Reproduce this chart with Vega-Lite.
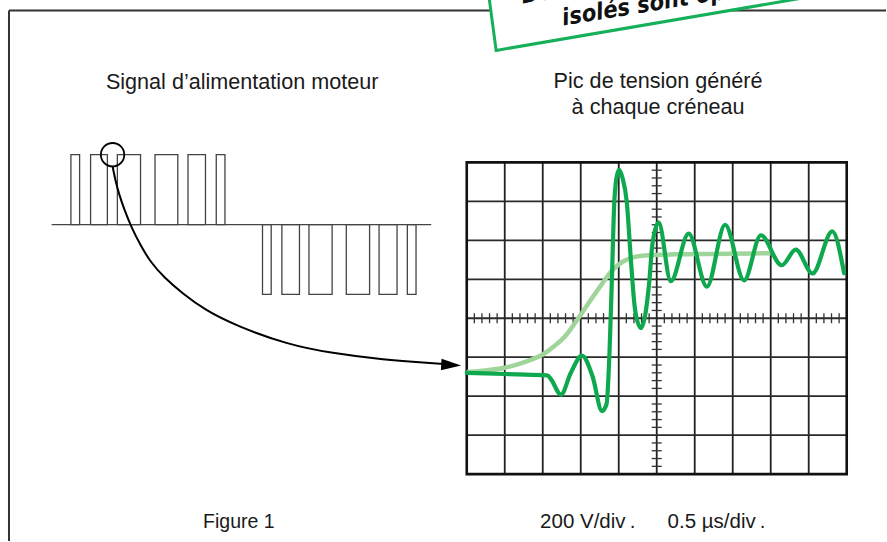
{
  "$schema": "https://vega.github.io/schema/vega-lite/v6.json",
  "width": 887,
  "height": 542,
  "autosize": {"type": "fit", "contains": "padding"},
  "padding": 0,
  "background": "white",
  "config": {"view": {"stroke": null}},
  "resolve": {"scale": {"x": "independent", "y": "independent"}},
  "layer": [
    {
      "encoding": {
        "x": {"field": "x", "type": "quantitative", "scale": {"domain": [0, 887], "nice": false, "zero": false}, "axis": null},
        "y": {"field": "y", "type": "quantitative", "scale": {"domain": [0, 542], "reverse": true, "nice": false, "zero": false}, "axis": null}
      },
      "layer": [
        {
          "data": {"values": [
            {"x": 9, "y": 10.5, "x2": 887, "y2": 10.5},
            {"x": 9, "y": 10.5, "x2": 9, "y2": 542}
          ]},
          "mark": {"type": "rule", "color": "#333333", "strokeWidth": 2},
          "encoding": {"x2": {"field": "x2"}, "y2": {"field": "y2"}}
        },
        {
          "data": {"values": [
            {"x": 489.3, "y": -5, "y2": -40},
            {"x": 496.7, "y": 50.5, "y2": -40},
            {"x": 900, "y": -18.5, "y2": -60}
          ]},
          "mark": {"type": "area", "color": "white", "opacity": 1, "clip": true},
          "encoding": {"y2": {"field": "y2"}}
        },
        {
          "data": {"values": [
            {"x": 489.3, "y": -5},
            {"x": 496.7, "y": 50.5},
            {"x": 900, "y": -18.5}
          ]},
          "mark": {"type": "line", "color": "#17b05a", "strokeWidth": 3, "strokeJoin": "miter", "clip": true}
        },
        {
          "data": {"values": [
            {"x": 523, "y": 3.5, "label": "Des pics"},
            {"x": 564, "y": 25.5, "label": "isolés sont op"}
          ]},
          "mark": {"type": "text", "align": "left", "baseline": "alphabetic", "angle": -9.3, "fontSize": 23.5, "fontWeight": "bold", "fontStyle": "italic", "font": "'Liberation Sans Narrow', 'Arial Narrow', 'DejaVu Sans Condensed', 'Liberation Sans'", "color": "#111111", "clip": true},
          "encoding": {"text": {"field": "label"}}
        },
        {
          "data": {"values": [
            {"x": 242.4, "y": 89, "label": "Signal d’alimentation moteur"},
            {"x": 658.8, "y": 88, "label": "Pic de tension généré"},
            {"x": 658.8, "y": 114, "label": "à chaque créneau"}
          ]},
          "mark": {"type": "text", "align": "center", "baseline": "alphabetic", "fontSize": 21.6, "font": "Liberation Sans", "color": "#1a1a1a"},
          "encoding": {"text": {"field": "label"}}
        },
        {
          "data": {"values": [
            {"x": 203.3, "y": 529, "label": "Figure 1"}
          ]},
          "mark": {"type": "text", "align": "left", "baseline": "alphabetic", "fontSize": 19.5, "font": "Liberation Sans", "color": "#1a1a1a"},
          "encoding": {"text": {"field": "label"}}
        },
        {
          "data": {"values": [
            {"x": 540.7, "y": 528.5, "label": "200 V/div\u2009."},
            {"x": 668.3, "y": 528.5, "label": "0.5 µs/div\u2009."}
          ]},
          "mark": {"type": "text", "align": "left", "baseline": "alphabetic", "fontSize": 20.5, "font": "Liberation Sans", "color": "#1a1a1a"},
          "encoding": {"text": {"field": "label"}}
        },
        {
          "data": {"values": [
            {"x": 51.7, "y": 225, "x2": 431.7, "y2": 225}
          ]},
          "mark": {"type": "rule", "color": "#444444", "strokeWidth": 1.3},
          "encoding": {"x2": {"field": "x2"}, "y2": {"field": "y2"}}
        },
        {
          "data": {"values": [
            {"x": 71, "x2": 79.7, "y": 155, "y2": 225},
            {"x": 90.7, "x2": 107.5, "y": 155, "y2": 225},
            {"x": 117.5, "x2": 140.7, "y": 155, "y2": 225},
            {"x": 155.2, "x2": 178, "y": 155, "y2": 225},
            {"x": 188.2, "x2": 205.7, "y": 155, "y2": 225},
            {"x": 216.5, "x2": 225.2, "y": 155, "y2": 225},
            {"x": 262.8, "x2": 271.5, "y": 225, "y2": 295},
            {"x": 282.2, "x2": 299.8, "y": 225, "y2": 295},
            {"x": 309.3, "x2": 332.5, "y": 225, "y2": 295},
            {"x": 346.7, "x2": 370, "y": 225, "y2": 295},
            {"x": 379.5, "x2": 397.5, "y": 225, "y2": 295},
            {"x": 407.8, "x2": 416.5, "y": 225, "y2": 295}
          ]},
          "mark": {"type": "rect", "filled": false, "stroke": "#444444", "strokeWidth": 1.3},
          "encoding": {"x2": {"field": "x2"}, "y2": {"field": "y2"}}
        },
        {
          "data": {"values": [
            {"x": 112.7, "y": 166.5},
            {"x": 115.5, "y": 180},
            {"x": 119.5, "y": 195},
            {"x": 125, "y": 211},
            {"x": 132, "y": 228},
            {"x": 140.5, "y": 245},
            {"x": 151, "y": 262},
            {"x": 165, "y": 278},
            {"x": 183.3, "y": 294},
            {"x": 206.7, "y": 310.5},
            {"x": 240, "y": 327},
            {"x": 286.7, "y": 343.5},
            {"x": 333.3, "y": 353.5},
            {"x": 383.3, "y": 360},
            {"x": 420, "y": 363},
            {"x": 444, "y": 364.6}
          ]},
          "mark": {"type": "line", "color": "#000000", "strokeWidth": 2, "interpolate": "natural"}
        },
        {
          "data": {"values": [{"x": 112.7, "y": 155}]},
          "mark": {"type": "point", "shape": "circle", "size": 548, "filled": false, "stroke": "#000000", "strokeWidth": 1.8, "opacity": 1}
        },
        {
          "data": {"values": [{"x": 451.7, "y": 365.7}]},
          "mark": {"type": "point", "shape": "M-1,-0.58L1,0L-1,0.58Z", "size": 400, "filled": true, "color": "#000000", "opacity": 1, "angle": 3}
        }
      ]
    },
    {
      "encoding": {
        "x": {"field": "t", "type": "quantitative", "scale": {"domain": [-6.142, 5.517], "nice": false, "zero": false}, "axis": null},
        "y": {"field": "v", "type": "quantitative", "scale": {"domain": [-1143.3, 1633.6], "nice": false, "zero": false}, "axis": null}
      },
      "layer": [
        {
          "data": {"values": [
            {"t": 0.5, "v": -800, "v2": 800},
            {"t": 1.0, "v": -800, "v2": 800},
            {"t": 1.5, "v": -800, "v2": 800},
            {"t": 2.0, "v": -800, "v2": 800},
            {"t": 2.5, "v": -800, "v2": 800},
            {"t": 3.0, "v": -800, "v2": 800},
            {"t": 3.5, "v": -800, "v2": 800},
            {"t": 4.0, "v": -800, "v2": 800},
            {"t": 4.5, "v": -800, "v2": 800}
          ]},
          "mark": {"type": "rule", "color": "#222222", "strokeWidth": 1.8},
          "encoding": {"y2": {"field": "v2"}}
        },
        {
          "data": {"values": [
            {"t": 0, "t2": 5, "v": -600},
            {"t": 0, "t2": 5, "v": -400},
            {"t": 0, "t2": 5, "v": -200},
            {"t": 0, "t2": 5, "v": 0},
            {"t": 0, "t2": 5, "v": 200},
            {"t": 0, "t2": 5, "v": 400},
            {"t": 0, "t2": 5, "v": 600}
          ]},
          "mark": {"type": "rule", "color": "#2a2a2a", "strokeWidth": 1.8},
          "encoding": {"x2": {"field": "t2"}}
        },
        {
          "data": {"values": [{"t": 0, "t2": 5, "v": -800, "v2": 800}]},
          "mark": {"type": "rect", "filled": false, "stroke": "#111111", "strokeWidth": 2.6},
          "encoding": {"x2": {"field": "t2"}, "y2": {"field": "v2"}}
        },
        {
          "data": {"values": [
            {"t": 0.1, "v": 0}, {"t": 0.2, "v": 0}, {"t": 0.3, "v": 0}, {"t": 0.4, "v": 0},
            {"t": 0.6, "v": 0}, {"t": 0.7, "v": 0}, {"t": 0.8, "v": 0}, {"t": 0.9, "v": 0},
            {"t": 1.1, "v": 0}, {"t": 1.2, "v": 0}, {"t": 1.3, "v": 0}, {"t": 1.4, "v": 0},
            {"t": 1.6, "v": 0}, {"t": 1.7, "v": 0}, {"t": 1.8, "v": 0}, {"t": 1.9, "v": 0},
            {"t": 2.1, "v": 0}, {"t": 2.2, "v": 0}, {"t": 2.3, "v": 0}, {"t": 2.4, "v": 0},
            {"t": 2.6, "v": 0}, {"t": 2.7, "v": 0}, {"t": 2.8, "v": 0}, {"t": 2.9, "v": 0},
            {"t": 3.1, "v": 0}, {"t": 3.2, "v": 0}, {"t": 3.3, "v": 0}, {"t": 3.4, "v": 0},
            {"t": 3.6, "v": 0}, {"t": 3.7, "v": 0}, {"t": 3.8, "v": 0}, {"t": 3.9, "v": 0},
            {"t": 4.1, "v": 0}, {"t": 4.2, "v": 0}, {"t": 4.3, "v": 0}, {"t": 4.4, "v": 0},
            {"t": 4.6, "v": 0}, {"t": 4.7, "v": 0}, {"t": 4.8, "v": 0}, {"t": 4.9, "v": 0}
          ]},
          "mark": {"type": "tick", "orient": "vertical", "size": 10, "thickness": 1.3, "color": "#333333", "opacity": 1}
        },
        {
          "data": {"values": [
            {"t": 2.5, "v": -760}, {"t": 2.5, "v": -720}, {"t": 2.5, "v": -680}, {"t": 2.5, "v": -640},
            {"t": 2.5, "v": -560}, {"t": 2.5, "v": -520}, {"t": 2.5, "v": -480}, {"t": 2.5, "v": -440},
            {"t": 2.5, "v": -360}, {"t": 2.5, "v": -320}, {"t": 2.5, "v": -280}, {"t": 2.5, "v": -240},
            {"t": 2.5, "v": -160}, {"t": 2.5, "v": -120}, {"t": 2.5, "v": -80}, {"t": 2.5, "v": -40},
            {"t": 2.5, "v": 40}, {"t": 2.5, "v": 80}, {"t": 2.5, "v": 120}, {"t": 2.5, "v": 160},
            {"t": 2.5, "v": 240}, {"t": 2.5, "v": 280}, {"t": 2.5, "v": 320}, {"t": 2.5, "v": 360},
            {"t": 2.5, "v": 440}, {"t": 2.5, "v": 480}, {"t": 2.5, "v": 520}, {"t": 2.5, "v": 560},
            {"t": 2.5, "v": 640}, {"t": 2.5, "v": 680}, {"t": 2.5, "v": 720}, {"t": 2.5, "v": 760}
          ]},
          "mark": {"type": "tick", "orient": "horizontal", "size": 10, "thickness": 1.3, "color": "#333333", "opacity": 1}
        },
        {
          "data": {"values": [
            {"t": 0, "v": -276}, {"t": 0.25, "v": -268}, {"t": 0.5, "v": -254}, {"t": 0.75, "v": -226},
            {"t": 1.0, "v": -186}, {"t": 1.15, "v": -144}, {"t": 1.3, "v": -90}, {"t": 1.45, "v": -10},
            {"t": 1.6, "v": 76}, {"t": 1.75, "v": 160}, {"t": 1.9, "v": 240}, {"t": 2.05, "v": 290},
            {"t": 2.2, "v": 314}, {"t": 2.4, "v": 324}, {"t": 2.75, "v": 328}, {"t": 3.25, "v": 330},
            {"t": 3.75, "v": 332}, {"t": 4.0, "v": 334}
          ]},
          "mark": {"type": "line", "color": "#9fd49a", "strokeWidth": 4.5, "interpolate": "monotone", "strokeCap": "butt"}
        },
        {
          "data": {"values": [
            {"t": 0, "v": -280}, {"t": 0.5, "v": -286}, {"t": 1.0, "v": -292}, {"t": 1.065, "v": -294},
            {"t": 1.11, "v": -314}, {"t": 1.24, "v": -392}, {"t": 1.37, "v": -280}, {"t": 1.515, "v": -192},
            {"t": 1.655, "v": -298}, {"t": 1.78, "v": -476}, {"t": 1.84, "v": -440}, {"t": 1.88, "v": -160},
            {"t": 1.91, "v": 200}, {"t": 1.94, "v": 580}, {"t": 1.97, "v": 720}, {"t": 2.005, "v": 762},
            {"t": 2.05, "v": 720}, {"t": 2.105, "v": 600}, {"t": 2.16, "v": 300}, {"t": 2.215, "v": 44},
            {"t": 2.29, "v": -50}, {"t": 2.35, "v": 20}, {"t": 2.4, "v": 180}, {"t": 2.445, "v": 386},
            {"t": 2.525, "v": 492}, {"t": 2.685, "v": 190}, {"t": 2.92, "v": 434}, {"t": 3.16, "v": 162},
            {"t": 3.4, "v": 480}, {"t": 3.65, "v": 194}, {"t": 3.87, "v": 426}, {"t": 4.145, "v": 272},
            {"t": 4.33, "v": 352}, {"t": 4.55, "v": 230}, {"t": 4.81, "v": 446}, {"t": 4.965, "v": 232}
          ]},
          "mark": {"type": "line", "color": "#0ea84f", "strokeWidth": 4.2, "interpolate": "monotone", "strokeCap": "round", "strokeJoin": "round"}
        }
      ]
    }
  ]
}
